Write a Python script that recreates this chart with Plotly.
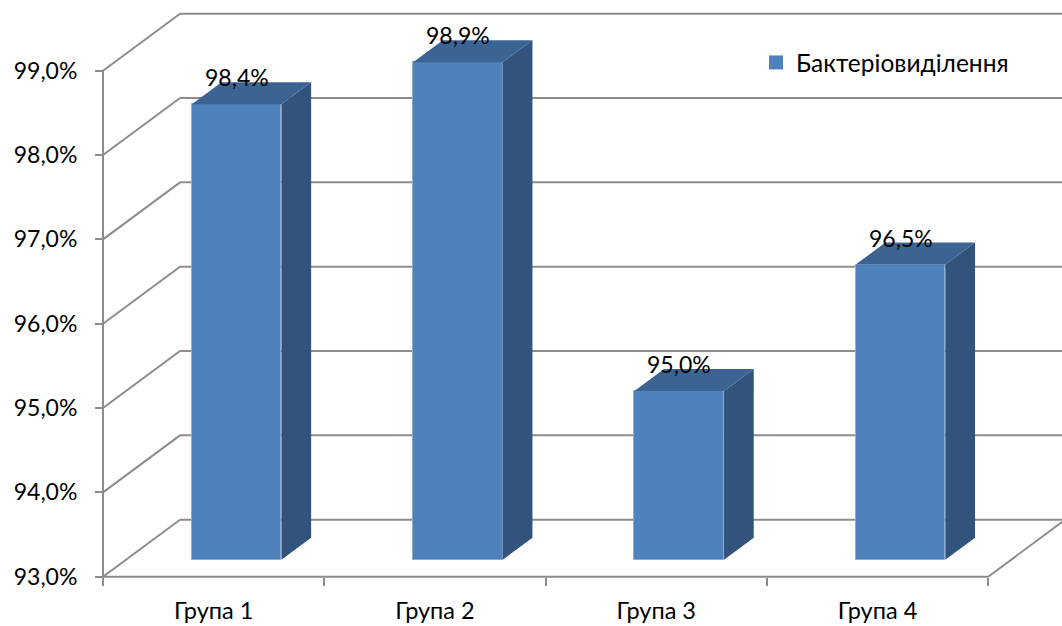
import plotly.graph_objects as go

# --- data ---------------------------------------------------------------
groups = ["Група 1", "Група 2", "Група 3", "Група 4"]
values = [98.4, 98.9, 95.0, 96.5]          # % bacterial excretion
series_name = "Бактеріовиділення"
y_ticks = [93, 94, 95, 96, 97, 98, 99]

# --- pseudo-3D geometry (category units along x, percent along y) -------
Y_MIN = 93.0
DEPTH_DX = 0.348        # horizontal shift of the back wall (category units)
DEPTH_DY = 0.676        # vertical shift of the back wall (percent units)
Z_FRONT, Z_BACK = 0.298, 0.684   # depth slab occupied by the bars
BAR_W = 0.405

FRONT = "#4F81BD"
SIDE = "#32537C"
TOP = "#3C6493"
GRID = "#8C8C8C"
FONT = "Lato"


def fmt(v):
    return f"{v:.1f}".replace(".", ",") + "%"


n = len(groups)
x_left, x_right = -0.5, n - 0.5

fig = go.Figure()

# front faces of the bars
x_front = [i + Z_FRONT * DEPTH_DX for i in range(n)]
base_front = Y_MIN + Z_FRONT * DEPTH_DY
fig.add_trace(go.Bar(
    x=x_front, y=[v - Y_MIN for v in values], base=base_front,
    width=BAR_W, marker=dict(color=FRONT, line=dict(color="#8FAAD0", width=1)),
    name=series_name, hoverinfo="skip", showlegend=False,
))

ddx = (Z_BACK - Z_FRONT) * DEPTH_DX
ddy = (Z_BACK - Z_FRONT) * DEPTH_DY
for xc, v in zip(x_front, values):
    xl, xr = xc - BAR_W / 2, xc + BAR_W / 2
    top = v + Z_FRONT * DEPTH_DY
    # right side face
    fig.add_trace(go.Scatter(
        x=[xr, xr, xr + ddx, xr + ddx, xr],
        y=[base_front, top, top + ddy, base_front + ddy, base_front],
        fill="toself", fillcolor=SIDE, mode="lines", line=dict(width=0),
        showlegend=False, hoverinfo="skip"))
    # top face
    fig.add_trace(go.Scatter(
        x=[xl, xr, xr + ddx, xl + ddx, xl],
        y=[top, top, top + ddy, top + ddy, top],
        fill="toself", fillcolor=TOP, mode="lines", line=dict(width=0),
        showlegend=False, hoverinfo="skip"))

# legend entry for the series (square swatch)
fig.add_trace(go.Scatter(
    x=[None], y=[None], mode="markers", name=series_name,
    marker=dict(symbol="square", size=14, color=FRONT), hoverinfo="skip"))

# value labels above each bar
for xc, v in zip(x_front, values):
    fig.add_annotation(x=xc, y=v + Z_FRONT * DEPTH_DY, text=fmt(v),
                       showarrow=False, yanchor="middle", yshift=27,
                       font=dict(family=FONT, size=23, color="#000000"))

# walls, floor and gridlines
shapes = []
line = dict(color=GRID, width=2)
for t in y_ticks:
    shapes.append(dict(type="line", xref="x", yref="y", layer="below",
                       x0=x_left + DEPTH_DX, y0=t + DEPTH_DY,
                       x1=x_right + DEPTH_DX, y1=t + DEPTH_DY, line=line))
    shapes.append(dict(type="line", xref="x", yref="y", layer="below",
                       x0=x_left, y0=t, x1=x_left + DEPTH_DX, y1=t + DEPTH_DY,
                       line=line))
shapes.append(dict(type="line", xref="x", yref="y", layer="below",
                   x0=x_left, y0=y_ticks[0], x1=x_left, y1=y_ticks[-1], line=line))
shapes.append(dict(type="line", xref="x", yref="y", layer="below",
                   x0=x_left, y0=Y_MIN, x1=x_right, y1=Y_MIN, line=line))
shapes.append(dict(type="line", xref="x", yref="y", layer="below",
                   x0=x_right, y0=Y_MIN, x1=x_right + DEPTH_DX, y1=Y_MIN + DEPTH_DY,
                   line=line))

W, H = 1062, 626
px_cat, px_pct = 221.3, 84.33
ax_left_px, ax_bottom_px = 103, 576.7
xr0 = x_left - ax_left_px / px_cat
yr1 = Y_MIN + ax_bottom_px / px_pct

fig.update_layout(
    width=W, height=H, margin=dict(l=0, r=0, t=0, b=0),
    paper_bgcolor="white", plot_bgcolor="white",
    shapes=shapes, bargap=0,
    font=dict(family=FONT, size=23, color="#000000"),
    showlegend=True,
    legend=dict(x=756 / W, y=1 - 40 / H, xanchor="left", yanchor="top",
                bgcolor="rgba(0,0,0,0)", font=dict(size=24.5)),
    xaxis=dict(
        range=[xr0, xr0 + W / px_cat], anchor="free",
        position=(H - ax_bottom_px) / H,
        showgrid=False, zeroline=False, showline=False,
        tickvals=list(range(n)), ticktext=groups,
        ticks="outside", ticklen=8, tickcolor="rgba(0,0,0,0)",
        ticklabelstandoff=5,
        minor=dict(tickvals=[i - 0.5 for i in range(n + 1)], ticks="outside",
                   ticklen=8, tickcolor=GRID, tickwidth=2, showgrid=False),
        tickfont=dict(size=23.5),
    ),
    yaxis=dict(
        range=[yr1 - H / px_pct, yr1], anchor="free",
        position=ax_left_px / W,
        showgrid=False, zeroline=False, showline=False,
        tickvals=y_ticks, ticktext=[fmt(t) for t in y_ticks],
        ticks="outside", ticklen=8, tickcolor=GRID, tickwidth=2,
        ticklabelstandoff=13,
        tickfont=dict(size=23),
    ),
)

fig.write_html("out.html")
